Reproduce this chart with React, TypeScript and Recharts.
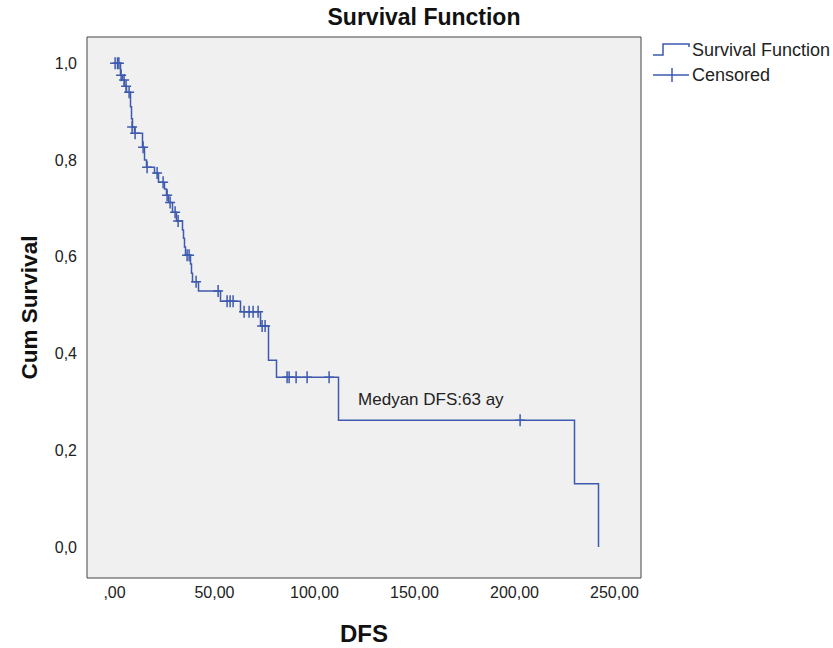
import React from 'react';
import {
  ComposedChart,
  Line,
  Scatter,
  XAxis,
  YAxis,
  ReferenceArea,
  ReferenceDot,
} from 'recharts';

// Kaplan-Meier steps: time of each drop and the survival after it
const eventTimes = [0, 3, 4, 5, 6, 8, 8.5, 9, 10, 14, 15, 16, 20, 22, 25, 26, 27, 29, 31, 34, 34.5, 35, 35.5, 38, 38.5, 39, 42, 53, 63, 73, 77, 81, 112, 230, 242];
const eventSurvival = [1, 0.975, 0.965, 0.952, 0.94, 0.91, 0.885, 0.868, 0.855, 0.826, 0.8, 0.785, 0.773, 0.754, 0.74, 0.727, 0.712, 0.692, 0.674, 0.655, 0.638, 0.62, 0.603, 0.585, 0.566, 0.548, 0.529, 0.508, 0.486, 0.457, 0.386, 0.351, 0.262, 0.131, 0];

// censored cases
const censorTimes = [0.3, 1.5, 2.2, 3.3, 4.8, 5.8, 7.3, 8.8, 10.3, 14.3, 16.3, 21.3, 24.3, 26.3, 27.8, 30.3, 31.8, 36.3, 37.3, 40.8, 51.8, 56.3, 57.8, 59.3, 64.8, 67.3, 69.3, 71.8, 73.8, 75.3, 86.3, 87.3, 90.8, 96.3, 107.3, 202.8];
const censorSurvival = [1, 1, 1, 0.975, 0.965, 0.952, 0.94, 0.868, 0.855, 0.826, 0.785, 0.773, 0.754, 0.727, 0.712, 0.692, 0.674, 0.603, 0.603, 0.548, 0.529, 0.508, 0.508, 0.508, 0.486, 0.486, 0.486, 0.486, 0.457, 0.457, 0.351, 0.351, 0.351, 0.351, 0.351, 0.262];

const xTicks = [0, 50, 100, 150, 200, 250];
const yTicks = [0, 0.2, 0.4, 0.6, 0.8, 1.0];
const medianLabel = 'Medyan DFS:63 ay';

const X_DOMAIN: [number, number] = [-13.75, 263.25];
const Y_DOMAIN: [number, number] = [-0.064, 1.054];

const BLUE = '#3d5aae';
const FONT = '"Liberation Sans", Arial, sans-serif';

const stepData = eventTimes.map((t, i) => ({ t, s: eventSurvival[i] }));
const censorData = censorTimes.map((t, i) => ({ t, s: censorSurvival[i] }));

const fmtX = (v: number) => (v === 0 ? ',00' : v.toFixed(2).replace('.', ','));
const fmtY = (v: number) => v.toFixed(1).replace('.', ',');

const CensorMark = (props: any) => {
  const { cx, cy } = props;
  if (cx == null || cy == null) return null;
  return (
    <path
      d={`M${cx - 5},${cy}H${cx + 5}M${cx},${cy - 6}V${cy + 6}`}
      stroke={BLUE}
      strokeWidth={1.5}
      fill="none"
    />
  );
};

function LegendBox() {
  return (
    <svg
      width={200}
      height={60}
      style={{ position: 'absolute', left: 645, top: 33 }}
    >
      <path d="M8,22 H18 V11 H44 V14" stroke={BLUE} strokeWidth={1.5} fill="none" />
      <text x={47} y={17} fontSize={18} fontFamily={FONT} fill="#222" dominantBaseline="central">
        Survival Function
      </text>
      <path d="M8,42 H44 M27,35 V49" stroke={BLUE} strokeWidth={1.5} fill="none" />
      <text x={47} y={42} fontSize={18} fontFamily={FONT} fill="#222" dominantBaseline="central">
        Censored
      </text>
    </svg>
  );
}

export default function App() {
  return (
    <div
      style={{
        position: 'absolute',
        left: 0,
        top: 0,
        width: 833,
        height: 648,
        background: '#fff',
        fontFamily: FONT,
      }}
    >
      <div
        style={{
          position: 'absolute',
          left: 0,
          width: 848,
          top: 4,
          textAlign: 'center',
          fontSize: 23,
          fontWeight: 'bold',
          color: '#111',
        }}
      >
        Survival Function
      </div>
      <ComposedChart
        width={833}
        height={648}
        margin={{ top: 37, right: 192, bottom: 40, left: 27 }}
      >
        <XAxis
          type="number"
          dataKey="t"
          domain={X_DOMAIN}
          ticks={xTicks}
          tickFormatter={fmtX}
          allowDataOverflow
          axisLine={false}
          tickLine={false}
          tickMargin={3}
          height={30}
          tick={{ fill: '#222', fontSize: 16, fontFamily: FONT }}
          label={{
            content: (p: any) => (
              <text
                x={p.viewBox.x + p.viewBox.width / 2}
                y={633}
                textAnchor="middle"
                dominantBaseline="central"
                fontSize={24}
                fontWeight="bold"
                fontFamily={FONT}
                fill="#111"
              >
                DFS
              </text>
            ),
          }}
        />
        <YAxis
          type="number"
          dataKey="s"
          domain={Y_DOMAIN}
          ticks={yTicks}
          tickFormatter={fmtY}
          allowDataOverflow
          axisLine={false}
          tickLine={false}
          tickMargin={4}
          width={60}
          tick={{ fill: '#222', fontSize: 16, fontFamily: FONT }}
          label={{
            content: (p: any) => {
              const cy = p.viewBox.y + p.viewBox.height / 2;
              return (
                <text
                  x={29}
                  y={cy}
                  transform={`rotate(-90, 29, ${cy})`}
                  textAnchor="middle"
                  dominantBaseline="central"
                  fontSize={22.5}
                  fontWeight="bold"
                  fontFamily={FONT}
                  fill="#111"
                >
                  Cum Survival
                </text>
              );
            },
          }}
        />
        <ReferenceArea
          x1={X_DOMAIN[0]}
          x2={X_DOMAIN[1]}
          y1={Y_DOMAIN[0]}
          y2={Y_DOMAIN[1]}
          fill="#f0f0f0"
          fillOpacity={1}
          stroke="#444"
          strokeWidth={1}
        />
        <Line
          data={stepData}
          dataKey="s"
          type="stepAfter"
          stroke={BLUE}
          strokeWidth={1.5}
          dot={false}
          activeDot={false}
          isAnimationActive={false}
        />
        <Scatter
          data={censorData}
          dataKey="s"
          shape={<CensorMark />}
          isAnimationActive={false}
        />
        <ReferenceDot
          x={121.8}
          y={0.306}
          r={0}
          stroke="none"
          label={{
            value: medianLabel,
            position: 'right',
            offset: 0,
            fill: '#222',
            fontSize: 17,
            fontFamily: FONT,
          }}
        />
      </ComposedChart>
      <LegendBox />
    </div>
  );
}
